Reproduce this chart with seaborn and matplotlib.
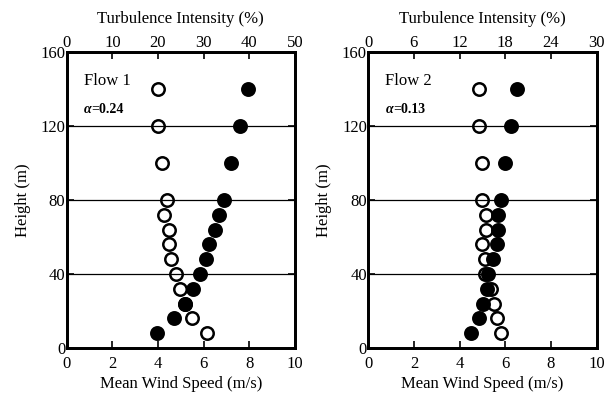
import numpy as np
import pandas as pd
import matplotlib
matplotlib.use("Agg")
import matplotlib.pyplot as plt
import seaborn as sns

sns.set_theme(style="white")
plt.rcParams['font.family'] = ['Liberation Serif', 'DejaVu Serif']

heights = [8, 16, 24, 32, 40, 48, 56, 64, 72, 80, 100, 120, 140]

flow1_speed = [3.97, 4.72, 5.20, 5.52, 5.84, 6.12, 6.22, 6.50, 6.69, 6.89, 7.20, 7.59, 7.96]
flow1_ti = [30.8, 27.4, 26.0, 24.9, 23.9, 22.9, 22.4, 22.4, 21.4, 22.0, 20.8, 20.0, 20.0]

flow2_speed = [4.48, 4.85, 5.04, 5.20, 5.26, 5.45, 5.62, 5.68, 5.69, 5.81, 6.01, 6.26, 6.50]
flow2_ti = [17.4, 16.9, 16.5, 16.1, 15.3, 15.4, 14.9, 15.5, 15.5, 14.9, 15.0, 14.5, 14.5]

panels = [
    {"title": "Flow 1", "alpha": "=0.24", "speed": flow1_speed, "ti": flow1_ti,
     "ti_max": 50, "ti_ticks": [0, 10, 20, 30, 40, 50]},
    {"title": "Flow 2", "alpha": "=0.13", "speed": flow2_speed, "ti": flow2_ti,
     "ti_max": 30, "ti_ticks": [0, 6, 12, 18, 24, 30]},
]

fig = plt.figure(figsize=(6.14, 3.94), dpi=100)
lefts = [0.1086, 0.5998]
FS = 12

for p, left in zip(panels, lefts):
    ax = fig.add_axes([left, 0.1168, 0.3718, 0.7513])
    ax2 = ax.twiny()
    ax.set_zorder(ax2.get_zorder() + 1)
    ax.patch.set_visible(False)

    df = pd.DataFrame({"height": heights, "speed": p["speed"], "ti": p["ti"]})

    sns.scatterplot(data=df, x="ti", y="height", ax=ax2, s=80, marker="o",
                    facecolor="white", edgecolor="black", linewidth=1.8, zorder=3)
    sns.scatterplot(data=df, x="speed", y="height", ax=ax, s=80, marker="o",
                    color="black", edgecolor="black", linewidth=1.8, zorder=4)

    ax.set_xlim(0, 10)
    ax.set_ylim(0, 160)
    ax2.set_xlim(0, p["ti_max"])
    ax.set_xticks([0, 2, 4, 6, 8, 10])
    ax.set_yticks([0, 40, 80, 120, 160])
    ax2.set_xticks(p["ti_ticks"])

    ax.yaxis.grid(True, color="black", linewidth=0.9)
    ax.xaxis.grid(False)
    ax2.grid(False)

    ax.tick_params(axis="both", direction="in", length=5, width=1.2,
                   labelsize=FS, colors="black", right=True, left=True, bottom=True)
    ax.tick_params(axis="x", pad=6)
    ax.tick_params(axis="y", pad=1)
    ax2.tick_params(axis="x", direction="in", length=5, width=1.2,
                    labelsize=FS, colors="black", pad=1, top=True)

    for a in (ax, ax2):
        for sp in a.spines.values():
            sp.set_color("black")
            sp.set_linewidth(2)

    ax.set_xlabel("Mean Wind Speed (m/s)", fontsize=FS, color="black", labelpad=3)
    ax.set_ylabel("Height (m)", fontsize=FS, color="black", labelpad=7)
    ax2.set_xlabel("Turbulence Intensity (%)", fontsize=FS, color="black", labelpad=8)

    ax.text(0.075, 0.902, p["title"], transform=ax.transAxes, fontsize=12,
            color="black", va="center", ha="left")
    a_txt = ax.text(0.075, 0.805, "α", transform=ax.transAxes, fontsize=10,
                    fontweight="bold", fontstyle="italic", color="black",
                    va="center", ha="left")
    ax.annotate(p["alpha"], xy=(1.0, 0.5), xycoords=a_txt, fontsize=10,
                fontweight="bold", color="black", va="center", ha="left")

fig.savefig("out.png", dpi=100)
